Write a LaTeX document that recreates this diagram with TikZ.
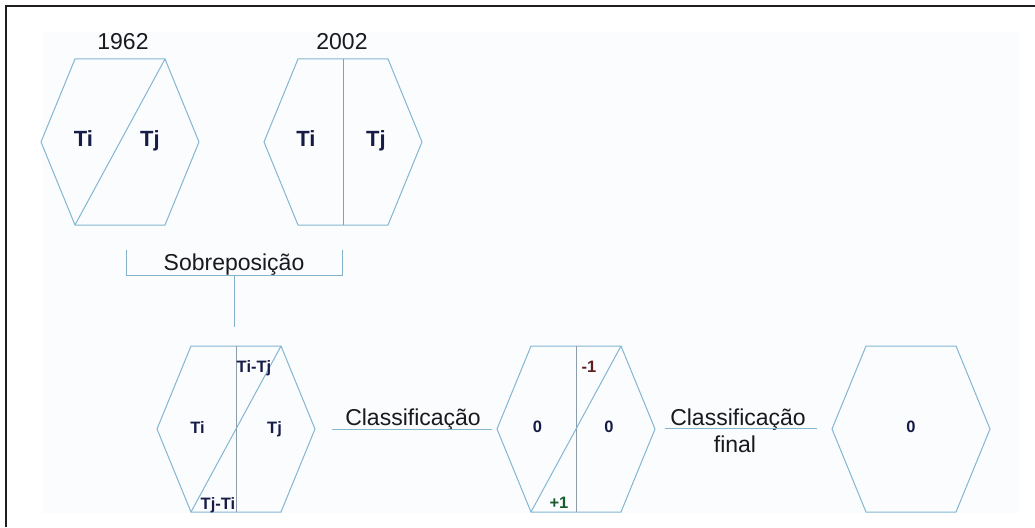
\documentclass[tikz,border=0pt]{standalone}
\usepackage{fontspec}
\setmainfont{Liberation Sans}
\definecolor{hexcol}{RGB}{132,182,210}
\definecolor{vcol}{RGB}{140,156,168}
\definecolor{navy}{RGB}{22,28,70}
\definecolor{txt}{RGB}{25,25,30}
\definecolor{frame}{RGB}{35,30,30}
\definecolor{bgc}{RGB}{251,252,254}
\definecolor{minus}{RGB}{95,30,30}
\definecolor{plus}{RGB}{25,90,45}
\tikzset{
  hexline/.style={draw=hexcol, line width=1pt, line join=miter},
  splitline/.style={draw=vcol, line width=1pt},
  diagline/.style={draw=hexcol, line width=1pt},
  bigtxt/.style={font=\fontsize{23}{25}\selectfont, text=txt, inner sep=0pt, anchor=base},
  hexlbl/.style={font=\fontsize{22}{24}\selectfont\bfseries, text=navy, inner sep=0pt, anchor=base},
  smlbl/.style={font=\fontsize{16.5}{18}\selectfont\bfseries, text=navy, inner sep=0pt, anchor=base},
}
\newcommand\myhexagon[3]{%
  \coordinate (#1-tl) at ({#2-45},{#3-83});
  \coordinate (#1-tr) at ({#2+45},{#3-83});
  \coordinate (#1-r)  at ({#2+79},{#3});
  \coordinate (#1-br) at ({#2+45},{#3+83});
  \coordinate (#1-bl) at ({#2-45},{#3+83});
  \coordinate (#1-l)  at ({#2-79},{#3});
  \coordinate (#1-t)  at ({#2},{#3-83});
  \coordinate (#1-b)  at ({#2},{#3+83});
  \draw[hexline] (#1-tl) -- (#1-tr) -- (#1-r) -- (#1-br) -- (#1-bl) -- (#1-l) -- cycle;
}
\begin{document}
\begin{tikzpicture}[x=1pt,y=-1pt]
\useasboundingbox (0,0) rectangle (1035,527);
\fill[white] (0,0) rectangle (1035,527);
\fill[bgc] (42,32) rectangle (1019,513);
% frame (top and left visible)
\draw[frame, line width=2.2pt] (6,527) -- (6,6) -- (1035,6);

% hexagon 1 (1962)
\myhexagon{h1}{120}{142}
\draw[diagline] (h1-tr) -- (h1-bl);
\node[bigtxt] (y1962) at (123,49) {1962};
\node[hexlbl] (h1i) at (83.5,146) {Ti};
\node[hexlbl] (h1j) at (150,146) {Tj};

% hexagon 2 (2002)
\myhexagon{h2}{343}{142}
\draw[splitline] (h2-t) -- (h2-b);
\node[bigtxt] (y2002) at (342,49) {2002};
\node[hexlbl] (h2i) at (306,146) {Ti};
\node[hexlbl] (h2j) at (376,146) {Tj};

% Sobreposicao bracket
\coordinate (bl1) at (126,250);
\coordinate (bl2) at (126,275);
\coordinate (br2) at (342,275);
\coordinate (br1) at (342,250);
\coordinate (bm) at (234,275);
\coordinate (bd) at (234,327);
\draw[splitline, draw=hexcol!80!vcol] (bl1) -- (bl2) -- (br2) -- (br1);
\draw[splitline, draw=hexcol!80!vcol] (bm) -- (bd);
\node[bigtxt] (sob) at (234,270) {Sobreposição};

% hexagon 3 (overlay)
\myhexagon{h3}{236}{429}
\draw[splitline] (h3-t) -- (h3-b);
\draw[diagline] (h3-tr) -- (h3-bl);
\node[smlbl] (h3ij) at (254,372) {Ti-Tj};
\node[smlbl] (h3i) at (197.5,433) {Ti};
\node[smlbl] (h3j) at (274.5,433) {Tj};
\node[smlbl] (h3ji) at (218,509) {Tj-Ti};

% Classificacao
\node[bigtxt] (cls) at (413,425) {Classificação};
\coordinate (u1a) at (332,429);
\coordinate (u1b) at (492,429);
\draw[diagline] (u1a) -- (u1b);

% hexagon 4
\myhexagon{h4}{576}{429}
\draw[splitline] (h4-t) -- (h4-b);
\draw[diagline] (h4-tr) -- (h4-bl);
\node[smlbl, text=minus] (h4m) at (589,372) {-1};
\node[smlbl] (h4a) at (537.5,432) {0};
\node[smlbl] (h4b) at (609,432) {0};
\node[smlbl, text=plus] (h4p) at (559,508) {+1};

% Classificacao final
\node[bigtxt] (clsf) at (738,425) {Classificação};
\node[bigtxt] (fin) at (735,452) {final};
\coordinate (u2a) at (665,428);
\coordinate (u2b) at (817,428);
\draw[diagline] (u2a) -- (u2b);

% hexagon 5
\myhexagon{h5}{911}{429}
\node[smlbl] (h5z) at (911,432) {0};
\end{tikzpicture}
\end{document}
